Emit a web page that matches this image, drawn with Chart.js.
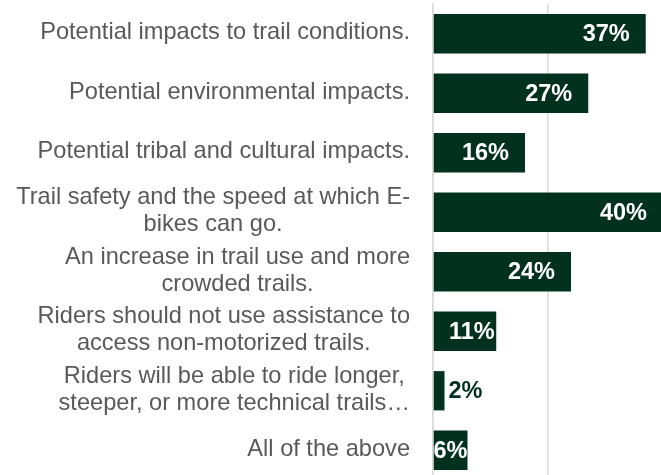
<!DOCTYPE html>
<html>
<head>
<meta charset="utf-8">
<script src="https://cdn.jsdelivr.net/npm/chart.js@4.4.1/dist/chart.umd.min.js"></script>
<style>
  html, body { margin: 0; padding: 0; background: #ffffff; overflow: hidden; }
  #wrap { position: relative; width: 663px; height: 480px; }
</style>
</head>
<body>
<div id="wrap"><canvas id="chart"></canvas></div>
<script>
// Categories, one array of lines per bar (as wrapped in the original)
const categories = [
  ['Potential impacts to trail conditions.'],
  ['Potential environmental impacts.'],
  ['Potential tribal and cultural impacts.'],
  ['Trail safety and the speed at which E-', 'bikes can go.'],
  ['An increase in trail use and more', 'crowded trails.'],
  ['Riders should not use assistance to', 'access non-motorized trails.'],
  ['Riders will be able to ride longer,', 'steeper, or more technical trails\u2026'],
  ['All of the above']
];
const values = [37, 27, 16, 40, 24, 11, 2, 6];
const valueLabels = ['37%', '27%', '16%', '40%', '24%', '11%', '2%', '6%'];
const xTicks = [0, 20, 40];

const BAR_COLOR = '#03311f';
const TEXT_GRAY = '#595959';
const GRID = '#d9d9d9';

// draws the wrapped category labels (right aligned block, centred lines)
const categoryLabels = {
  id: 'categoryLabels',
  afterDraw(chart) {
    const ctx = chart.ctx;
    const yScale = chart.scales.y;
    const right = 410;
    const lh = 27;
    ctx.save();
    ctx.font = '23.6px "Liberation Sans", Arial, sans-serif';
    ctx.fillStyle = TEXT_GRAY;
    ctx.textAlign = 'center';
    ctx.textBaseline = 'middle';
    categories.forEach((lines, i) => {
      const y = yScale.getPixelForValue(i) - 1;
      const w = Math.max(...lines.map(l => ctx.measureText(l).width));
      const cx = right - w / 2;
      const top = y - (lines.length - 1) * lh / 2;
      lines.forEach((l, j) => ctx.fillText(l, cx, top + j * lh));
    });
    ctx.restore();
  }
};

// value labels at the inside end of the bars, outside if the bar is too short
const valueLabelPlugin = {
  id: 'valueLabels',
  afterDatasetsDraw(chart) {
    const ctx = chart.ctx;
    const meta = chart.getDatasetMeta(0);
    const x0 = chart.scales.x.getPixelForValue(0);
    ctx.save();
    ctx.font = 'bold 23.5px "Liberation Sans", Arial, sans-serif';
    ctx.textBaseline = 'middle';
    meta.data.forEach((bar, i) => {
      const text = valueLabels[i];
      const tw = ctx.measureText(text).width;
      const bw = bar.x - x0;
      if (bw < 20) {
        ctx.fillStyle = BAR_COLOR;
        ctx.textAlign = 'left';
        ctx.fillText(text, bar.x + 4, bar.y + 1);
      } else {
        const pad = Math.min(16, Math.max(0, bw - tw - 16));
        ctx.fillStyle = '#ffffff';
        ctx.textAlign = 'right';
        ctx.fillText(text, bar.x - pad, bar.y + 1);
      }
    });
    ctx.restore();
  }
};

new Chart(document.getElementById('chart').getContext('2d'), {
  type: 'bar',
  data: {
    labels: categories.map(c => c.join(' ')),
    datasets: [{
      data: values,
      backgroundColor: BAR_COLOR,
      borderWidth: 0,
      barPercentage: 0.66,
      categoryPercentage: 1
    }]
  },
  options: {
    indexAxis: 'y',
    responsive: true,
    maintainAspectRatio: false,
    animation: false,
    layout: { padding: { top: 4, right: 0, bottom: 0, left: 0 } },
    plugins: {
      legend: { display: false },
      tooltip: { enabled: false }
    },
    scales: {
      x: {
        min: xTicks[0],
        max: xTicks[xTicks.length - 1],
        afterBuildTicks: (scale) => { scale.ticks = xTicks.map(v => ({ value: v })); },
        ticks: { display: false },
        grid: { color: GRID, lineWidth: 1.5, drawTicks: false },
        border: { display: false }
      },
      y: {
        ticks: { display: false },
        grid: { display: false, drawTicks: false },
        border: { display: true, color: GRID, width: 1.5 },
        afterFit: (scale) => { scale.width = 433; }
      }
    }
  },
  plugins: [categoryLabels, valueLabelPlugin]
});
</script>
</body>
</html>
